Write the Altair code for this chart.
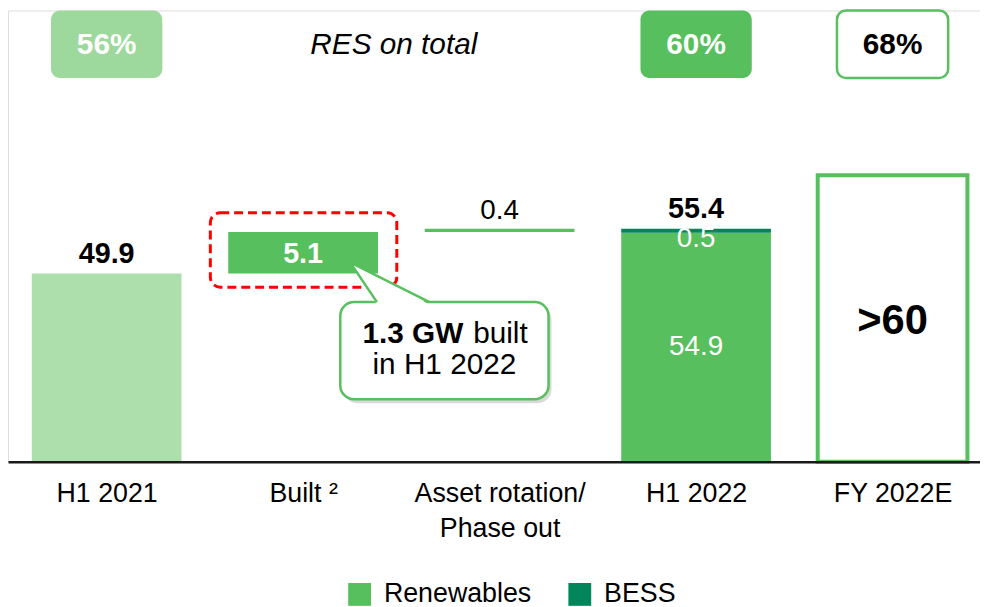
import json
import altair as alt
import pandas as pd

# ---------------- data ----------------
categories = ["H1 2021", "Built ²", "Asset rotation/|Phase out", "H1 2022", "FY 2022E"]
h1_2021_total = 49.9
built_added = 5.1
rotation_delta = 0.4
h1_2022_renewables = 54.9
h1_2022_bess = 0.5
fy_2022e_drawn = 62.0          # height of the outlined ">60" target bar (estimated)
fy_2022e_label = ">60"
res_share = ["56%", "", "", "60%", "68%"]
series = ["Renewables", "BESS"]
res_caption = "RES on total"
callout_bold = "1.3 GW"
callout_rest = "built"
callout_line2 = "in H1 2022"

# ---------------- styling ----------------
BASE = 26.7   # truncated value axis, as in the slide
TOP = 82.3
X_DOMAIN = [-0.502, 4.445]
HALF = 0.381      # half bar width, in category units
BOX_HALF = 0.283  # half width of the RES-share boxes
GREEN = "#57bf5e"
DARK = "#00865a"
LIGHT = "#acdfac"
BOX_LIGHT = "#9dd99d"
FONT = "Liberation Sans"

built_end = h1_2021_total + built_added
rot_end = built_end + rotation_delta
h1_2022_total = h1_2022_renewables + h1_2022_bess

rows = [
    (0, BASE, h1_2021_total, "H1 2021"),
    (1, h1_2021_total, built_end, "Renewables"),
    (2, built_end, rot_end, "Renewables"),
    (3, BASE, h1_2022_renewables, "Renewables"),
    (3, h1_2022_renewables, h1_2022_total, "BESS"),
]
bars = pd.DataFrame([{"i": i, "x0": i - HALF, "x1": i + HALF, "start": s, "end": e, "kind": k}
                     for i, s, e, k in rows])
target = pd.DataFrame([{"i": 4, "x0": 4 - HALF, "x1": 4 + HALF, "start": BASE, "end": fy_2022e_drawn}])

XS = alt.Scale(domain=X_DOMAIN, nice=False, zero=False)
label_expr = f"split({json.dumps(categories, ensure_ascii=False)}[datum.value], '|')"
X_AXIS = alt.Axis(
    title=None, values=list(range(len(categories))), labelAngle=0, labelFontSize=27,
    labelFont=FONT, labelColor="#000", labelPadding=19, ticks=False, domainColor="#1a1a1a",
    domainWidth=2.5, labelExpr=label_expr, labelLineHeight=35, zindex=1, grid=False,
    labelLimit=400, labelOverlap=False, labelFlush=False,
)
YS = alt.Scale(domain=[BASE, TOP], nice=False, zero=False)


def xpos(field="i"):
    return alt.X(f"{field}:Q", scale=XS, axis=X_AXIS)


bar_layer = alt.Chart(bars).mark_bar(opacity=1).encode(
    x=xpos("x0"),
    x2="x1:Q",
    y=alt.Y("start:Q", scale=YS, axis=None),
    y2="end:Q",
    color=alt.Color(
        "kind:N",
        scale=alt.Scale(domain=["Renewables", "BESS", "H1 2021"], range=[GREEN, DARK, LIGHT]),
        legend=alt.Legend(
            values=series, orient="none", legendX=341, legendY=575, direction="horizontal",
            title=None, symbolType="square", symbolSize=529, symbolStrokeWidth=0,
            symbolOpacity=1, labelFontSize=27, labelFont=FONT, labelColor="#000",
            labelOffset=11, columnPadding=35, labelLimit=300,
        ),
    ),
)

target_layer = alt.Chart(target).mark_bar(fill="white", stroke=GREEN, strokeWidth=4).encode(
    x=xpos("x0"), x2="x1:Q", y=alt.Y("start:Q", scale=YS, axis=None), y2="end:Q"
)


def label(i, y, t, **kw):
    return alt.Chart(pd.DataFrame([{"i": i, "y": y, "t": t}])).mark_text(font=FONT, **kw).encode(
        x=xpos(), y=alt.Y("y:Q", scale=YS, axis=None), text="t:N")


lab_h1_21 = label(0, h1_2021_total, f"{h1_2021_total:.1f}", fontSize=29, fontWeight="bold",
                  color="#000", baseline="alphabetic", dy=-11)
lab_h1_22 = label(3, h1_2022_total, f"{h1_2022_total:.1f}", fontSize=29, fontWeight="bold",
                  color="#000", baseline="alphabetic", dy=-11)
rot_lab = label(2, rot_end, f"{rotation_delta:.1f}", fontSize=28, color="#000",
                baseline="alphabetic", dy=-10)
built_lab = label(1, (h1_2021_total + built_end) / 2, f"{built_added:.1f}", fontSize=29,
                  fontWeight="bold", color="white", baseline="middle", dy=1)
bess_lab = label(3, (h1_2022_renewables + h1_2022_total) / 2, f"{h1_2022_bess:.1f}", fontSize=28,
                 color="white", baseline="middle", dy=8)
ren_lab = label(3, (BASE + h1_2022_renewables) / 2, f"{h1_2022_renewables:.1f}", fontSize=28,
                color="white", baseline="middle")
fy_lab = label(4, (BASE + fy_2022e_drawn) / 2, fy_2022e_label, fontSize=42, fontWeight="bold",
               color="#000", baseline="middle", dy=3)

# RES share boxes
one = pd.DataFrame({"a": [0]})


def share_box(i, fill, stroke, txt_color):
    d = pd.DataFrame([{"i": i, "x0": i - BOX_HALF, "x1": i + BOX_HALF, "t": res_share[i]}])
    shadow = alt.Chart(d).mark_rect(cornerRadius=9, color="#000", opacity=0.16,
                                    xOffset=2, yOffset=4).encode(
        x=xpos("x0"), x2="x1:Q", y=alt.value(0), y2=alt.value(68))
    box_kw = dict(cornerRadius=9, fill=fill, opacity=1)
    if stroke:
        box_kw.update(stroke=stroke, strokeWidth=2.5)
    box = alt.Chart(d).mark_rect(**box_kw).encode(x=xpos("x0"), x2="x1:Q",
                                                   y=alt.value(0), y2=alt.value(68))
    txt = alt.Chart(d).mark_text(font=FONT, fontSize=30, fontWeight="bold", color=txt_color,
                                 baseline="alphabetic").encode(x=xpos(), y=alt.value(44), text="t:N")
    return [shadow, box, txt]


boxes = (share_box(0, BOX_LIGHT, None, "white")
         + share_box(3, GREEN, None, "white")
         + share_box(4, "white", GREEN, "#000"))

caption = alt.Chart(one).mark_text(font=FONT, fontSize=30, fontStyle="italic", color="#000",
                                   baseline="alphabetic").encode(
    x=alt.value(389), y=alt.value(44), text=alt.value(res_caption))

# red dashed highlight around the Built bar
red_box = alt.Chart(one).mark_rect(cornerRadius=10, fillOpacity=0, stroke="#ff0000", strokeWidth=3,
                                   strokeDash=[9, 5]).encode(
    x=alt.value(204), x2=alt.value(392), y=alt.value(204), y2=alt.value(279))

# callout
call_shadow = alt.Chart(one).mark_rect(cornerRadius=14, color="#000", opacity=0.15).encode(
    x=alt.value(338), x2=alt.value(548), y=alt.value(298), y2=alt.value(396))
call_box = alt.Chart(one).mark_rect(cornerRadius=14, fill="white", stroke=GREEN, strokeWidth=2.5).encode(
    x=alt.value(335), x2=alt.value(545), y=alt.value(294), y2=alt.value(392))
ptr_fill = alt.Chart(one).mark_point(shape="M -1 -0.5 L -0.325 0.56 L 1 0.56 Z", size=6400, filled=True,
                                     fill="white", strokeWidth=0, opacity=1).encode(
    x=alt.value(385), y=alt.value(274))
ptr_edge = alt.Chart(one).mark_point(shape="M -0.325 0.5 L -1 -0.5 L 1 0.5", size=6400, filled=False,
                                     stroke=GREEN, strokeWidth=2.5, opacity=1).encode(
    x=alt.value(385), y=alt.value(274))
call_t1a = alt.Chart(one).mark_text(font=FONT, fontSize=30, fontWeight="bold", color="#000",
                                    align="right", baseline="alphabetic").encode(
    x=alt.value(459), y=alt.value(335), text=alt.value(callout_bold))
call_t1b = alt.Chart(one).mark_text(font=FONT, fontSize=30, color="#000",
                                    align="left", baseline="alphabetic").encode(
    x=alt.value(469), y=alt.value(335), text=alt.value(callout_rest))
call_t2 = alt.Chart(one).mark_text(font=FONT, fontSize=30, color="#000",
                                   align="center", baseline="alphabetic").encode(
    x=alt.value(440), y=alt.value(367), text=alt.value(callout_line2))

chart = alt.layer(
    bar_layer, target_layer, lab_h1_21, lab_h1_22, rot_lab, built_lab, bess_lab, ren_lab, fy_lab,
    *boxes, caption, red_box, call_shadow, call_box, ptr_fill, ptr_edge,
    call_t1a, call_t1b, call_t2,
).properties(
    width=980, height=455,
    autosize=alt.AutoSizeParams(type="none"),
    padding={"left": 0, "top": 0, "right": 0, "bottom": 150},
).configure_view(stroke=None).configure(background="white")

chart.save("out.html", embed_options={"renderer": "svg", "actions": False})
